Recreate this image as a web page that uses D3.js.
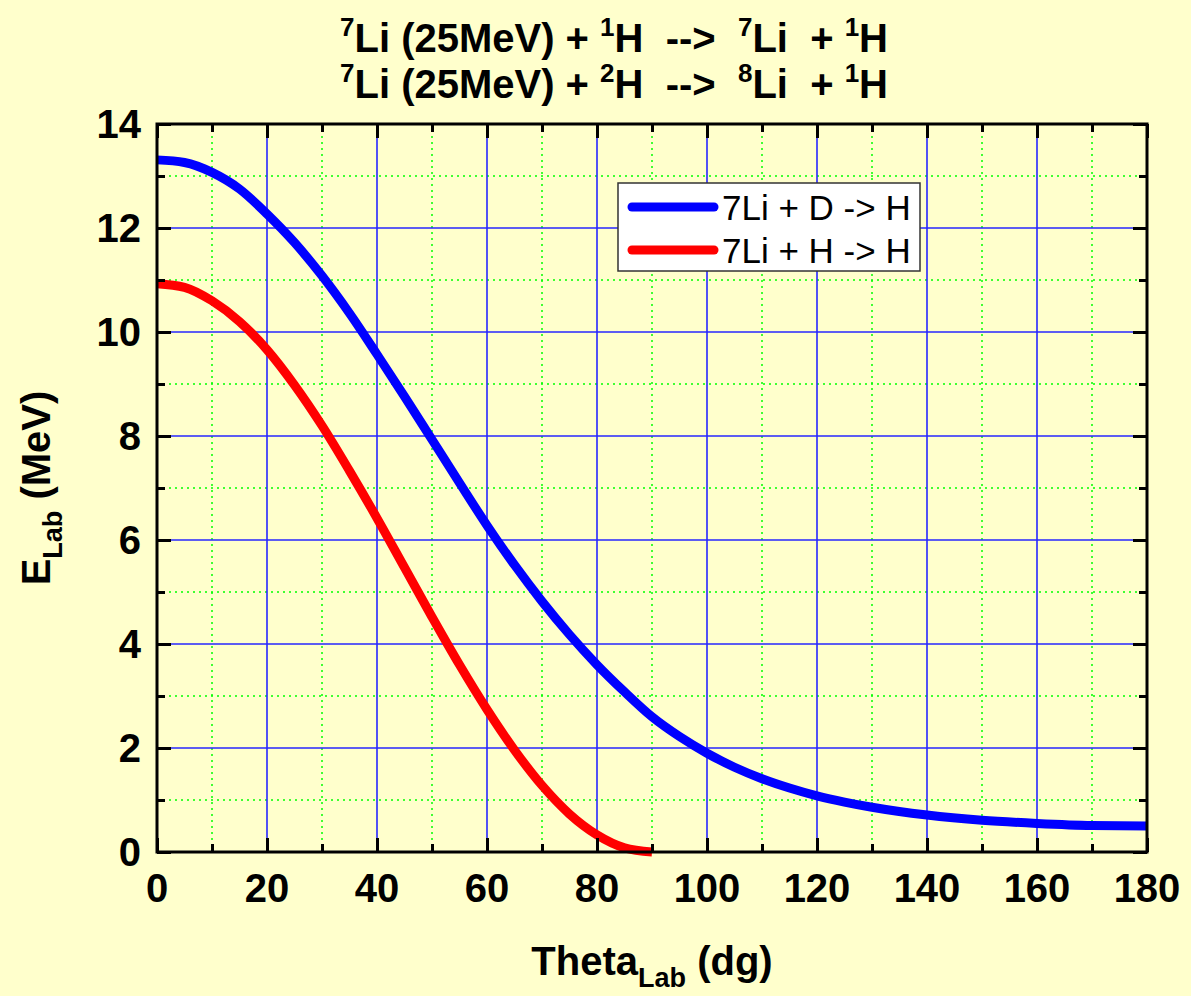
<!DOCTYPE html>
<html>
<head>
<meta charset="utf-8">
<script src="https://cdn.jsdelivr.net/npm/d3@7"></script>
<style>
  html, body { margin: 0; padding: 0; background: #ffffcc; }
  svg { display: block; font-family: "Liberation Sans", Arial, sans-serif; }
</style>
</head>
<body>
<script>
// curve data (theta in degrees, energy in MeV)
var thetaD = [0, 5, 10, 15, 20, 25, 30, 35, 40, 45, 50, 55, 60, 65, 70, 75, 80, 85, 90, 95, 100,
              105, 110, 115, 120, 125, 130, 140, 150, 160, 170, 180];
var energyD = [13.31, 13.26, 13.07, 12.75, 12.27, 11.72, 11.08, 10.36, 9.57, 8.76, 7.93, 7.1, 6.28,
               5.52, 4.82, 4.18, 3.6, 3.08, 2.6, 2.22, 1.9, 1.63, 1.41, 1.23, 1.08, 0.96, 0.86,
               0.71, 0.61, 0.55, 0.51, 0.5];
var thetaH = [0, 5, 10, 15, 20, 25, 30, 35, 40, 45, 50, 55, 60, 65, 70, 75, 80, 85, 90];
var energyH = [10.93, 10.86, 10.6, 10.2, 9.66, 8.98, 8.2, 7.33, 6.42, 5.47, 4.52, 3.6, 2.74, 1.96,
               1.28, 0.73, 0.33, 0.08, 0.0];
var seriesNames = ["7Li + D -> H", "7Li + H -> H"];
var seriesColors = ["#0000ff", "#ff0000"];
var xTicks = [0, 20, 40, 60, 80, 100, 120, 140, 160, 180];
var yTicks = [0, 2, 4, 6, 8, 10, 12, 14];

var W = 1191, H = 996;
var m = [124, 44, 144, 157]; //top right bottom left
var w = W - m[1] - m[3], h = H - m[0] - m[2];

var x = d3.scaleLinear().domain([0, 180]).range([0, w]);
var y = d3.scaleLinear().domain([0, 14]).range([h, 0]);

var svg = d3.select("body").append("svg")
    .attr("width", W)
    .attr("height", H);
svg.append("rect").attr("width", W).attr("height", H).attr("fill", "#ffffcc");

var g = svg.append("g").attr("transform", "translate(" + m[3] + "," + m[0] + ")");

var xMinor = d3.range(10, 180, 20);
var yMinor = d3.range(1, 14, 2);

// minor grid (green dotted)
g.append("g").selectAll("line.vmin").data(xMinor).enter().append("line")
    .attr("x1", function (d) { return x(d); }).attr("x2", function (d) { return x(d); })
    .attr("y1", 0).attr("y2", h)
    .attr("stroke", "#00ff00").attr("stroke-width", 1.5).attr("stroke-dasharray", "2,4");
g.append("g").selectAll("line.hmin").data(yMinor).enter().append("line")
    .attr("y1", function (d) { return y(d); }).attr("y2", function (d) { return y(d); })
    .attr("x1", 0).attr("x2", w)
    .attr("stroke", "#00ff00").attr("stroke-width", 1.5).attr("stroke-dasharray", "2,4");
// major grid (blue)
g.append("g").selectAll("line.vmaj").data(xTicks.slice(1, -1)).enter().append("line")
    .attr("x1", function (d) { return x(d); }).attr("x2", function (d) { return x(d); })
    .attr("y1", 0).attr("y2", h)
    .attr("stroke", "#2626ff").attr("stroke-width", 1.6);
g.append("g").selectAll("line.hmaj").data(yTicks.slice(1, -1)).enter().append("line")
    .attr("y1", function (d) { return y(d); }).attr("y2", function (d) { return y(d); })
    .attr("x1", 0).attr("x2", w)
    .attr("stroke", "#2626ff").attr("stroke-width", 1.6);

// curves
var line = d3.line()
    .x(function (d) { return x(d[0]); })
    .y(function (d) { return y(d[1]); })
    .curve(d3.curveMonotoneX);
var curves = [d3.zip(thetaD, energyD), d3.zip(thetaH, energyH)];
g.selectAll("path.curve").data(curves).enter().append("path")
    .attr("class", "curve")
    .attr("d", line)
    .attr("fill", "none")
    .attr("stroke", function (d, i) { return seriesColors[i]; })
    .attr("stroke-width", 9)
    .attr("stroke-linejoin", "round");

// axes: ticks inward on all four sides
function tickFmt() { return ""; }
g.append("g").attr("transform", "translate(0," + h + ")")
    .call(d3.axisBottom(x).tickValues(xTicks).tickSizeInner(-14).tickSizeOuter(0).tickFormat(tickFmt));
g.append("g").attr("transform", "translate(0," + h + ")")
    .call(d3.axisBottom(x).tickValues(xMinor).tickSizeInner(-8).tickSizeOuter(0).tickFormat(tickFmt));
g.append("g")
    .call(d3.axisTop(x).tickValues(xTicks).tickSizeInner(-14).tickSizeOuter(0).tickFormat(tickFmt));
g.append("g")
    .call(d3.axisTop(x).tickValues(xMinor).tickSizeInner(-8).tickSizeOuter(0).tickFormat(tickFmt));
g.append("g")
    .call(d3.axisLeft(y).tickValues(yTicks).tickSizeInner(-14).tickSizeOuter(0).tickFormat(tickFmt));
g.append("g")
    .call(d3.axisLeft(y).tickValues(yMinor).tickSizeInner(-8).tickSizeOuter(0).tickFormat(tickFmt));
g.append("g").attr("transform", "translate(" + w + ",0)")
    .call(d3.axisRight(y).tickValues(yTicks).tickSizeInner(-14).tickSizeOuter(0).tickFormat(tickFmt));
g.append("g").attr("transform", "translate(" + w + ",0)")
    .call(d3.axisRight(y).tickValues(yMinor).tickSizeInner(-8).tickSizeOuter(0).tickFormat(tickFmt));
g.selectAll(".domain").remove();
g.selectAll(".tick line").attr("stroke", "#000").attr("stroke-width", 3);
g.append("rect").attr("width", w).attr("height", h)
    .attr("fill", "none").attr("stroke", "#000").attr("stroke-width", 3);

// tick labels
g.append("g").selectAll("text").data(xTicks).enter().append("text")
    .attr("x", function (d) { return x(d); })
    .attr("y", h + 50)
    .attr("text-anchor", "middle")
    .attr("font-size", 40).attr("font-weight", "bold")
    .text(function (d) { return d; });
g.append("g").selectAll("text").data(yTicks).enter().append("text")
    .attr("x", -16)
    .attr("y", function (d) { return y(d); })
    .attr("dy", "0.36em")
    .attr("text-anchor", "end")
    .attr("font-size", 40).attr("font-weight", "bold")
    .text(function (d) { return d; });

// axis titles
var xt = svg.append("text")
    .attr("x", m[3] + w / 2).attr("y", 975)
    .attr("text-anchor", "middle")
    .attr("font-size", 40).attr("font-weight", "bold");
xt.append("tspan").text("Theta");
xt.append("tspan").attr("font-size", 27).attr("dy", 12).text("Lab");
xt.append("tspan").attr("dy", -12).text(" (dg)");

var yt = svg.append("text")
    .attr("transform", "translate(50," + (m[0] + h / 2) + ") rotate(-90)")
    .attr("text-anchor", "middle")
    .attr("font-size", 40).attr("font-weight", "bold");
yt.append("tspan").text("E");
yt.append("tspan").attr("font-size", 27).attr("dy", 12).text("Lab");
yt.append("tspan").attr("dy", -12).text(" (MeV)");

// title, two lines with superscripts
var titleRows = [
    [["7", "Li (25MeV) + "], ["1", "H  -->  "], ["7", "Li  + "], ["1", "H"]],
    [["7", "Li (25MeV) + "], ["2", "H  -->  "], ["8", "Li  + "], ["1", "H"]]
];
titleRows.forEach(function (row, r) {
    var t = svg.append("text")
        .attr("x", 614).attr("y", 52 + r * 46)
        .attr("text-anchor", "middle")
        .attr("font-size", 40).attr("font-weight", "bold")
        .attr("xml:space", "preserve")
        .style("white-space", "pre");
    row.forEach(function (p) {
        t.append("tspan").attr("font-size", 26).attr("dy", -16).text(p[0]);
        t.append("tspan").attr("dy", 16).text(p[1]);
    });
});

// legend
var lg = svg.append("g").attr("transform", "translate(618,183)");
lg.append("rect").attr("width", 302).attr("height", 88)
    .attr("fill", "#fff").attr("stroke", "#333").attr("stroke-width", 1.5);
seriesNames.forEach(function (name, i) {
    var yy = 24 + i * 43;
    lg.append("line").attr("x1", 14).attr("x2", 96).attr("y1", yy).attr("y2", yy)
        .attr("stroke", seriesColors[i]).attr("stroke-width", 9).attr("stroke-linecap", "round");
    lg.append("text").attr("x", 104).attr("y", yy).attr("dy", "0.36em")
        .attr("font-size", 35).text(name);
});
</script>
</body>
</html>
